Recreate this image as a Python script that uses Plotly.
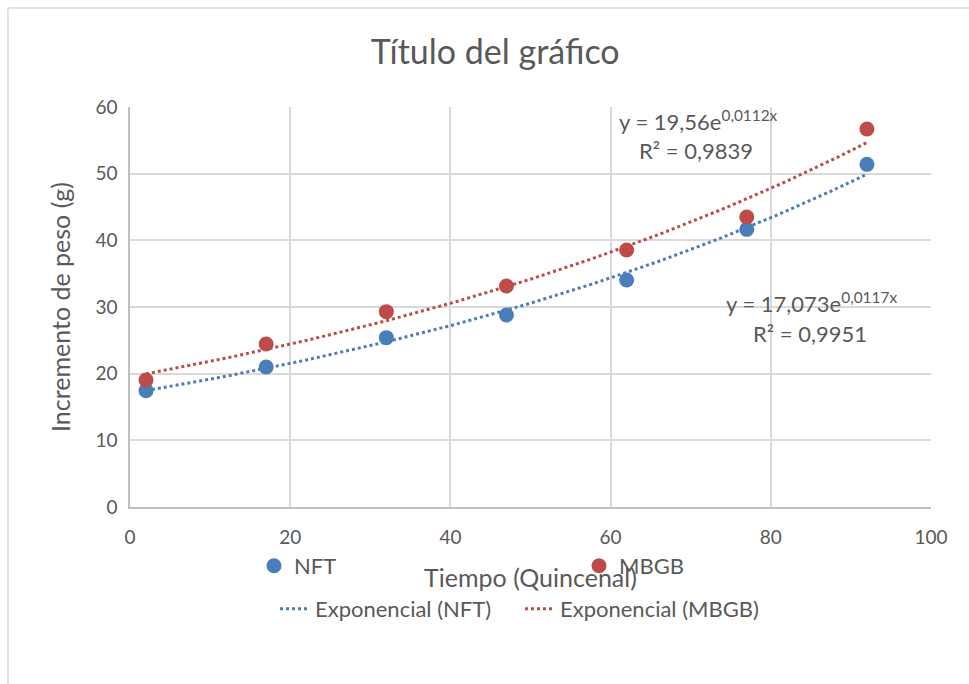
import numpy as np
import plotly.graph_objects as go

# Data
tiempo = [2, 17, 32, 47, 62, 77, 92]
nft = [17.45, 21.0, 25.4, 28.8, 34.05, 41.65, 51.4]
mbgb = [19.05, 24.45, 29.3, 33.15, 38.55, 43.5, 56.7]
x_ticks = [0, 20, 40, 60, 80, 100]
y_ticks = [0, 10, 20, 30, 40, 50, 60]
eq_nft = ["y = 17,073e<sup>0,0117x</sup>", "R² = 0,9951"]
eq_mbgb = ["y = 19,56e<sup>0,0112x</sup>", "R² = 0,9839"]

BLUE = "#4a7ebb"
RED = "#be4b48"
GRAY = "#595959"
FONT = "Lato"

def exp_fit(x, y):
    x = np.asarray(x, float)
    b, ln_a = np.polyfit(x, np.log(np.asarray(y, float)), 1)
    xs = np.linspace(min(x), max(x), 100)
    return xs, np.exp(ln_a) * np.exp(b * xs)

fig = go.Figure()
fig.add_trace(go.Scatter(x=tiempo, y=nft, mode="markers", name="NFT",
                         marker=dict(color=BLUE, size=15), legend="legend"))
fig.add_trace(go.Scatter(x=tiempo, y=mbgb, mode="markers", name="MBGB",
                         marker=dict(color=RED, size=15), legend="legend"))
xs, ys = exp_fit(tiempo, nft)
fig.add_trace(go.Scatter(x=xs, y=ys, mode="lines", name="Exponencial (NFT)",
                         line=dict(color=BLUE, width=3, dash="dot"), legend="legend2"))
xs, ys = exp_fit(tiempo, mbgb)
fig.add_trace(go.Scatter(x=xs, y=ys, mode="lines", name="Exponencial (MBGB)",
                         line=dict(color=RED, width=3, dash="dot"), legend="legend2"))

axis_common = dict(showgrid=True, gridcolor="#d9d9d9", gridwidth=1.5,
                   zeroline=False, showline=True, linecolor="#bfbfbf", linewidth=1.5,
                   tickfont=dict(family=FONT, size=19, color=GRAY), ticks="")

fig.update_layout(
    width=969, height=684,
    margin=dict(l=130, r=38, t=107, b=177),
    paper_bgcolor="white", plot_bgcolor="white",
    font=dict(family=FONT, color=GRAY),
    title=dict(text="Título del gráfico", x=0.511, xanchor="center", y=0.924, yanchor="middle",
               font=dict(family=FONT, size=34, color=GRAY)),
    xaxis=dict(range=[0, 100], tickvals=x_ticks, ticklabelstandoff=12,
               title=dict(text="Tiempo (Quincenal)", font=dict(family=FONT, size=25, color=GRAY), standoff=23),
               **axis_common),
    yaxis=dict(range=[0, 60], tickvals=y_ticks, ticklabelstandoff=7,
               title=dict(text="Incremento de peso (g)", font=dict(family=FONT, size=25, color=GRAY), standoff=18),
               **axis_common),
    legend=dict(orientation="h", x=(254 - 130) / 801, xanchor="left", y=(507 - 566) / 400, yanchor="middle",
                entrywidth=280, entrywidthmode="pixels", bgcolor="rgba(0,0,0,0)",
                font=dict(family=FONT, size=22, color=GRAY), borderwidth=0),
    legend2=dict(orientation="h", x=(275 - 130) / 801, xanchor="left", y=(507 - 609) / 400, yanchor="middle",
                 entrywidth=200, entrywidthmode="pixels", bgcolor="rgba(0,0,0,0)",
                 font=dict(family=FONT, size=22, color=GRAY), borderwidth=0),
    showlegend=True,
)

ann_font = dict(family=FONT, size=22, color=GRAY)
fig.add_annotation(x=698, y=58.0, xref="x", yref="y", text=eq_mbgb[0], showarrow=False,
                   font=ann_font, xanchor="center", yanchor="middle")
fig.add_annotation(x=696, y=53.5, xref="x", yref="y", text=eq_mbgb[1], showarrow=False,
                   font=ann_font, xanchor="center", yanchor="middle")
fig.add_annotation(x=811, y=30.7, xref="x", yref="y", text=eq_nft[0], showarrow=False,
                   font=ann_font, xanchor="center", yanchor="middle")
fig.add_annotation(x=810, y=26.1, xref="x", yref="y", text=eq_nft[1], showarrow=False,
                   font=ann_font, xanchor="center", yanchor="middle")

# convert annotation x from pixels to data
for ann in fig.layout.annotations:
    ann.x = (ann.x - 130) / 801 * 100

# outer chart border
fig.add_shape(type="rect", xref="paper", yref="paper",
              x0=(8 - 130) / 801, x1=(990 - 130) / 801, y0=(507 - 700) / 400, y1=(507 - 8) / 400,
              line=dict(color="#d9d9d9", width=1.5), fillcolor="rgba(0,0,0,0)", layer="below")

fig.write_html("out.html")
